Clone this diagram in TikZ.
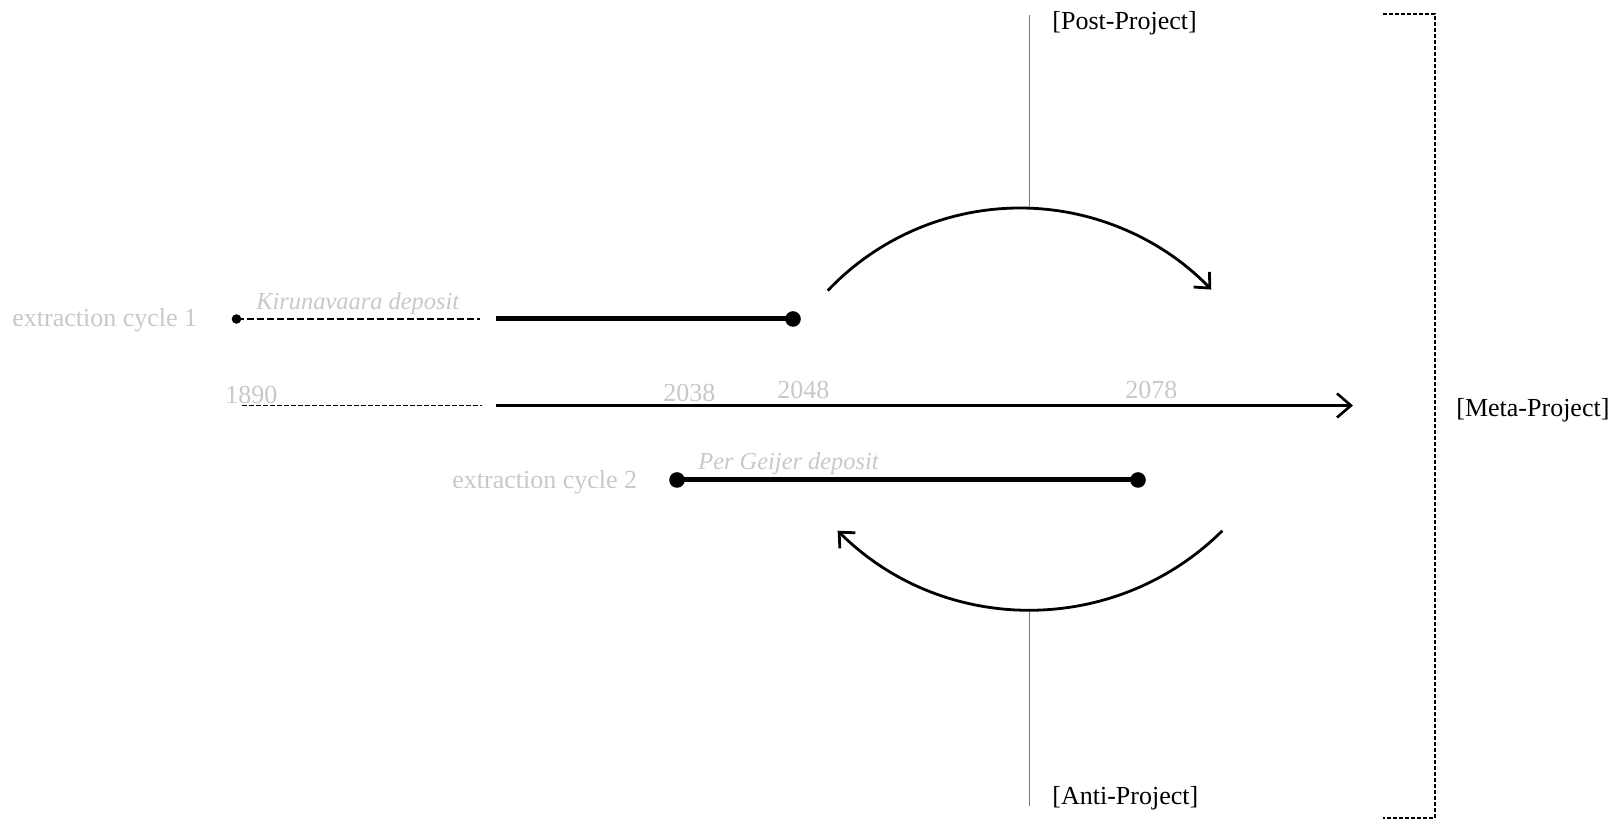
\documentclass[tikz,border=0pt]{standalone}
\usepackage{fontspec}
\setmainfont{Liberation Serif}
\usetikzlibrary{arrows.meta}
\definecolor{lightlabel}{HTML}{C8C8C8}
\definecolor{axisgray}{HTML}{7A7A7A}
\begin{document}
\begin{tikzpicture}[x=0.5pt,y=-0.5pt,
  glabel/.style={text=lightlabel,font=\fontsize{13}{15}\selectfont,inner sep=0pt,anchor=base west},
  gital/.style={glabel,font=\fontsize{12.2}{14}\selectfont\itshape},
  blabel/.style={text=black,font=\fontsize{13}{15}\selectfont,inner sep=0pt,anchor=base west},
  thickbar/.style={line width=2.5pt},
  dashbar/.style={line width=1.4pt,dash pattern=on 3.5pt off 1.5pt},
  axisline/.style={line width=1.3pt},
  axisdash/.style={line width=0.7pt,dash pattern=on 2.5pt off 1pt},
  bigdot/.style={circle,fill=black,inner sep=0pt,minimum size=7.8pt},
  smalldot/.style={circle,fill=black,inner sep=0pt,minimum size=4.8pt},
  arcarrow/.style={line width=1.4pt,-{Straight Barb[length=6pt,width=11pt,line width=1.4pt]}},
  tiparrow/.style={-{Straight Barb[length=7pt,width=12pt,line width=1.3pt]}},
  grayrule/.style={draw=axisgray,line width=0.9pt},
  bracket/.style={line width=0.6pt,dash pattern=on 2pt off 1pt}
]
\useasboundingbox (0,0) rectangle (1619,822);

% extraction cycle 1
\node[glabel] (c1label) at (12,327) {extraction cycle 1};
\node[gital] (kiruna) at (256,310) {Kirunavaara deposit};
\node[smalldot] (c1start) at (236.5,319) {};
\coordinate (c1dashend) at (480,319);
\coordinate (c1solidstart) at (496,319);
\node[bigdot] (c1end) at (793,319) {};
\draw[dashbar] (c1start.center) -- (c1dashend);
\draw[thickbar] (c1solidstart) -- (c1end.center);

% timeline
\node[glabel] (y1890) at (225,404) {1890};
\node[glabel] (y2038) at (663,401.5) {2038};
\node[glabel] (y2048) at (777,398.5) {2048};
\node[glabel] (y2078) at (1125,398.5) {2078};
\coordinate (tstart) at (241.5,405.5);
\coordinate (tdashend) at (482,405.5);
\coordinate (tsolid) at (496,405.5);
\coordinate (tend) at (1353,405.5);
\draw[axisdash] (tstart) -- (tdashend);
\draw[axisline,tiparrow] (tsolid) -- (tend);

% extraction cycle 2
\node[glabel] (c2label) at (452,489) {extraction cycle 2};
\node[gital] (geijer) at (698,470) {Per Geijer deposit};
\node[bigdot] (c2start) at (677,480) {};
\node[bigdot] (c2end) at (1138,480) {};
\draw[thickbar] (c2start.center) -- (c2end.center);

% post-project
\node[blabel] (post) at (1052,30) {[Post-Project]};
\coordinate (postTop) at (1029.5,15);
\coordinate (postArc) at (1029.5,209);
\draw[grayrule] (postTop) -- (postArc);
\coordinate (upArcStart) at ({1020+265*cos(-136.5)},{473+265*sin(-136.5)});
\draw[arcarrow] (upArcStart) arc[start angle=-136.5,end angle=-43.8,radius=265];

% anti-project
\node[blabel] (anti) at (1052,805) {[Anti-Project]};
\coordinate (antiArc) at (1029.5,610);
\coordinate (antiBot) at (1029.5,806);
\draw[grayrule] (antiArc) -- (antiBot);
\coordinate (lowArcStart) at ({1030+273*cos(45.2)},{337+273*sin(45.2)});
\draw[arcarrow] (lowArcStart) arc[start angle=45.2,end angle=134.8,radius=273];

% meta-project bracket
\node[blabel] (meta) at (1456,417) {[Meta-Project]};
\coordinate (brTL) at (1383,14);
\coordinate (brTR) at (1435,14);
\coordinate (brBR) at (1435,818);
\coordinate (brBL) at (1383,818);
\draw[bracket] (brTL) -- (brTR) -- (brBR) -- (brBL);
\end{tikzpicture}
\end{document}
